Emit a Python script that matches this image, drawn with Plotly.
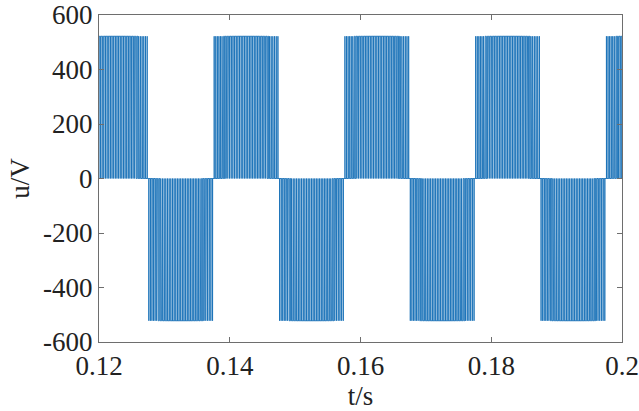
import plotly.graph_objects as go

# ---- data ----
# half-cycle boundaries (s) of the PWM line voltage and their polarity
half_edges = [0.1175, 0.1275, 0.1375, 0.1475, 0.1575, 0.1675, 0.1775, 0.1875, 0.1975, 0.2075]
polarity = [1, -1, 1, -1, 1, -1, 1, -1, 1]
amplitude = 522  # V, pulse height
# estimated pulse duty ratios across one half cycle (carrier slots)
duty = [0.05, 0.12, 0.20, 0.28, 0.36, 0.43, 0.50, 0.57, 0.63, 0.69,
        0.74, 0.79, 0.83, 0.87, 0.90, 0.93, 0.95, 0.96, 0.97, 0.98,
        0.98, 0.97, 0.96, 0.95, 0.93, 0.90, 0.87, 0.83, 0.79, 0.74,
        0.69, 0.63, 0.57, 0.50, 0.43, 0.36, 0.28, 0.20, 0.12, 0.05]

x_ticks = [0.12, 0.14, 0.16, 0.18, 0.2]
x_tick_text = ["0.12", "0.14", "0.16", "0.18", "0.2"]
y_ticks = [-600, -400, -200, 0, 200, 400, 600]
y_tick_text = ["-600", "-400", "-200", "0", "200", "400", "600"]

# ---- build the step waveform from the pulses ----
t, u = [], []
for i, p in enumerate(polarity):
    a, b = half_edges[i], half_edges[i + 1]
    T = (b - a) / len(duty)
    for k, d in enumerate(duty):
        c = a + (k + 0.5) * T
        w = d * T
        t += [c - w / 2, c - w / 2, c + w / 2, c + w / 2]
        u += [0, p * amplitude, p * amplitude, 0]

fig = go.Figure()
fig.add_trace(go.Scatter(x=t, y=u, mode="lines",
                         line=dict(color="#1a72b8", width=0.9),
                         hoverinfo="skip", showlegend=False))

font = dict(family="Liberation Serif, Times New Roman, serif", size=27, color="#222")
axis_common = dict(showgrid=False, zeroline=False, showline=True, linecolor="#6e6e6e",
                   linewidth=1, mirror="ticks", ticks="inside", ticklen=5,
                   tickcolor="#6e6e6e", tickfont=font, automargin=False)

fig.update_layout(
    width=639, height=411,
    margin=dict(l=99, r=17, t=15, b=69),
    paper_bgcolor="white", plot_bgcolor="white",
    xaxis=dict(range=[0.12, 0.2], tickvals=x_ticks, ticktext=x_tick_text,
               title=dict(text="t/s", font=font, standoff=0), **axis_common),
    yaxis=dict(range=[-600, 600], tickvals=y_ticks, ticktext=y_tick_text,
               title=dict(text="u/V", font=font, standoff=5), **axis_common),
)

fig.write_html("out.html", config={"displayModeBar": False, "staticPlot": True},
               post_script="document.body.style.margin='0';document.body.style.overflow='hidden';")
